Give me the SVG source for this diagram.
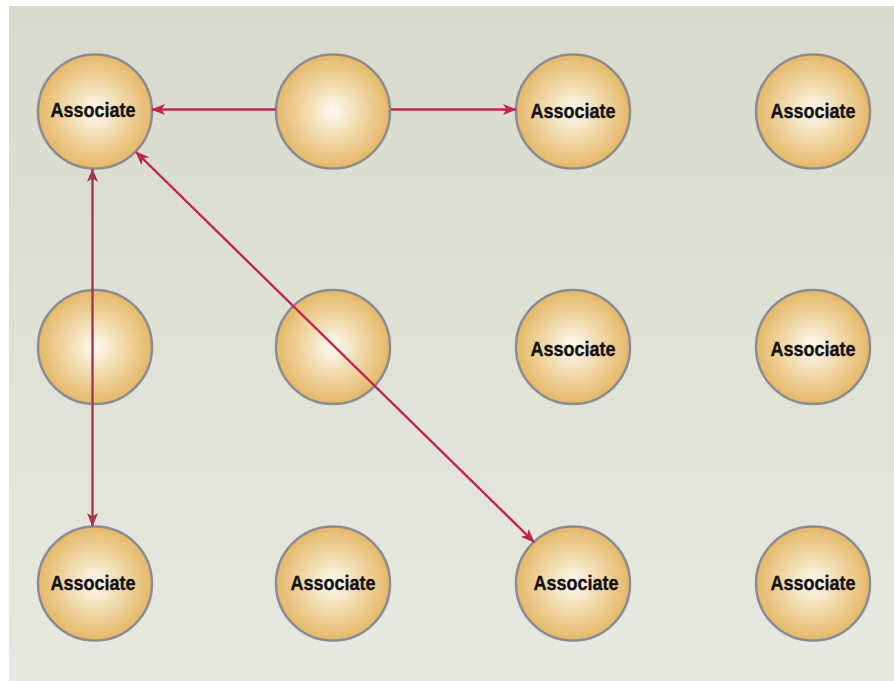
<svg xmlns="http://www.w3.org/2000/svg" width="894" height="681" viewBox="0 0 894 681">
<defs>
<linearGradient id="bg" x1="0" y1="0" x2="0" y2="1">
<stop offset="0" stop-color="#d8dacd"/>
<stop offset="1" stop-color="#e7e8e1"/>
</linearGradient>
<radialGradient id="ball" cx="0.5" cy="0.5" r="0.5">
<stop offset="0" stop-color="#fefcf6"/>
<stop offset="0.45" stop-color="#f2dcb0"/>
<stop offset="1" stop-color="#e5b868"/>
</radialGradient>
<marker id="ah" viewBox="0 0 14 11" refX="13" refY="5.5" markerWidth="14" markerHeight="11" markerUnits="userSpaceOnUse" orient="auto-start-reverse">
<path d="M0,0 L14,5.5 L0,11 L3.5,5.5 z" fill="#c0254f"/>
</marker>
<marker id="ah2" viewBox="0 0 14 11" refX="13" refY="5.5" markerWidth="14" markerHeight="11" markerUnits="userSpaceOnUse" orient="auto-start-reverse">
<path d="M0,0 L14,5.5 L0,11 L3.5,5.5 z" fill="#a3384f"/>
</marker>
</defs>
<style>
.n circle{fill:url(#ball);stroke:#8b8c91;stroke-width:2.5}
.n text{font-family:"Liberation Sans",Arial,sans-serif;font-weight:bold;font-size:21px;fill:#15110e;text-anchor:middle;stroke:#15110e;stroke-width:0.4}
.c{stroke:#c0254f;stroke-width:2.4;fill:none}
.v{stroke:#a3384f;stroke-width:2.4;fill:none}
</style>
<rect x="9" y="6" width="885" height="675" fill="url(#bg)"/>
<g id="n1" class="n"><circle cx="95" cy="111.5" r="57"/><text x="93" y="117" textLength="85" lengthAdjust="spacingAndGlyphs">Associate</text></g>
<g id="n2" class="n"><circle cx="333" cy="111.5" r="57"/></g>
<g id="n3" class="n"><circle cx="573" cy="111.5" r="57"/><text x="573" y="118" textLength="85" lengthAdjust="spacingAndGlyphs">Associate</text></g>
<g id="n4" class="n"><circle cx="813" cy="111.5" r="57"/><text x="813" y="118" textLength="85" lengthAdjust="spacingAndGlyphs">Associate</text></g>
<g id="n5" class="n"><circle cx="95" cy="347" r="57"/></g>
<g id="n6" class="n"><circle cx="333" cy="347" r="57"/></g>
<g id="n7" class="n"><circle cx="573" cy="347" r="57"/><text x="573" y="355.5" textLength="85" lengthAdjust="spacingAndGlyphs">Associate</text></g>
<g id="n8" class="n"><circle cx="813" cy="347" r="57"/><text x="813" y="355.5" textLength="85" lengthAdjust="spacingAndGlyphs">Associate</text></g>
<g id="n9" class="n"><circle cx="95" cy="583.5" r="57"/><text x="93" y="589.5" textLength="85" lengthAdjust="spacingAndGlyphs">Associate</text></g>
<g id="n10" class="n"><circle cx="333" cy="583.5" r="57"/><text x="333" y="589.5" textLength="85" lengthAdjust="spacingAndGlyphs">Associate</text></g>
<g id="n11" class="n"><circle cx="573" cy="583.5" r="57"/><text x="576" y="589.5" textLength="85" lengthAdjust="spacingAndGlyphs">Associate</text></g>
<g id="n12" class="n"><circle cx="813" cy="583.5" r="57"/><text x="813" y="589.5" textLength="85" lengthAdjust="spacingAndGlyphs">Associate</text></g>
<g id="connectors">
<line class="c" x1="276" y1="109.5" x2="152" y2="109.5" marker-end="url(#ah)"/>
<line class="c" x1="391" y1="109.5" x2="516" y2="109.5" marker-end="url(#ah)"/>
<line class="v" x1="92.5" y1="169" x2="92.5" y2="526" marker-start="url(#ah2)" marker-end="url(#ah2)"/>
<line class="c" x1="136" y1="152" x2="534" y2="542" marker-start="url(#ah)" marker-end="url(#ah)"/>
</g>
</svg>
